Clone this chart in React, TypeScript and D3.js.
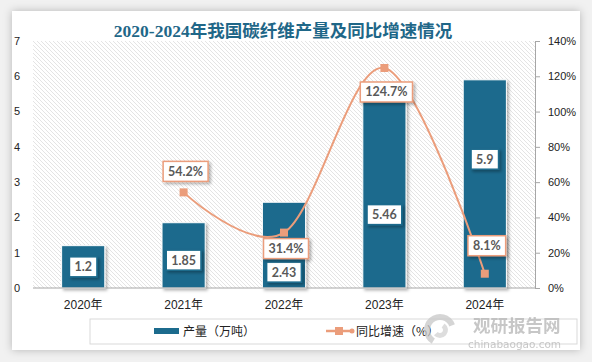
import React, { useEffect, useRef } from 'react';
import * as d3 from 'd3';

const years = ['2020年', '2021年', '2022年', '2023年', '2024年'];
const output = [1.2, 1.85, 2.43, 5.46, 5.9];
const growth: (number | null)[] = [null, 54.2, 31.4, 124.7, 8.1];
// where each bar's value label sits, in axis units (labels were hand-placed in the original)
const outputLabelAt = [0.6, 0.79, 0.45, 2.08, 3.65];
// vertical offset of each growth label from its point, in px
const growthLabelDy = [0, -21, 16, 24, -28];
const leftTicks = [0, 1, 2, 3, 4, 5, 6, 7];
const rightTicks = [0, 20, 40, 60, 80, 100, 120, 140];

const BAR = '#1c6b8d';
const LINE = '#eb9d7b';
const W = 592;
const H = 362;

const App = () => {
  const svgRef = useRef<SVGSVGElement>(null);

  useEffect(() => {
    const svg = d3.select(svgRef.current);
    svg.selectAll('*').remove();
    svg.attr('width', W).attr('height', H);

    const defs = svg.append('defs');
    const hatch = defs.append('pattern')
      .attr('id', 'hatch')
      .attr('patternUnits', 'userSpaceOnUse')
      .attr('width', 4)
      .attr('height', 4);
    hatch.append('rect').attr('width', 4).attr('height', 4).attr('fill', '#fff');
    hatch.append('path')
      .attr('d', 'M-1,3 l2,2 M0,0 l4,4 M3,-1 l2,2')
      .attr('stroke', '#d9d9d9')
      .attr('stroke-width', 0.7);

    const shadow = defs.append('filter').attr('id', 'shadow')
      .attr('x', '-30%').attr('y', '-30%').attr('width', '160%').attr('height', '160%');
    shadow.append('feDropShadow')
      .attr('dx', 2).attr('dy', 2).attr('stdDeviation', 1.5)
      .attr('flood-color', '#000').attr('flood-opacity', 0.3);

    const cardShadow = defs.append('filter').attr('id', 'cardShadow')
      .attr('x', '-5%').attr('y', '-5%').attr('width', '110%').attr('height', '110%');
    cardShadow.append('feDropShadow')
      .attr('dx', 0).attr('dy', 0).attr('stdDeviation', 4)
      .attr('flood-color', '#000').attr('flood-opacity', 0.25);

    svg.append('rect').attr('width', W).attr('height', H).attr('fill', '#f1f1f1');
    svg.append('rect')
      .attr('x', 12).attr('y', 11).attr('width', 568).attr('height', 339)
      .attr('fill', '#fff')
      .attr('filter', 'url(#cardShadow)');

    const left = 33, right = 535, top = 41, bottom = 288;

    const x = d3.scaleBand<string>()
      .domain(years)
      .range([left, right])
      .paddingInner(0.57)
      .paddingOuter(0.285);
    const yL = d3.scaleLinear().domain([0, 7]).range([bottom, top]);
    const yR = d3.scaleLinear().domain([0, 140]).range([bottom, top]);

    // title
    svg.append('text')
      .attr('x', 283).attr('y', 37)
      .attr('text-anchor', 'middle')
      .style('font-family', '"Liberation Serif", "Noto Sans CJK SC", serif')
      .style('font-size', '17.5px')
      .style('font-weight', 'bold')
      .style('fill', '#1f6788')
      .text('2020-2024年我国碳纤维产量及同比增速情况');

    // plot area
    svg.append('rect')
      .attr('x', left).attr('y', top)
      .attr('width', right - left).attr('height', bottom - top)
      .attr('fill', 'url(#hatch)');

    const axisFont = '"Liberation Sans", Arial, sans-serif';

    // left axis labels
    svg.append('g').selectAll('text')
      .data(leftTicks)
      .enter()
      .append('text')
      .attr('x', 14)
      .attr('y', d => yL(d))
      .attr('dy', '0.35em')
      .style('font-family', axisFont)
      .style('font-size', '11px')
      .style('fill', '#222')
      .text(d => d);

    // right axis
    const rAxis = svg.append('g')
      .attr('transform', `translate(${right},0)`)
      .call(d3.axisRight(yR).tickValues(rightTicks).tickSize(5).tickPadding(8).tickFormat(d => `${d}%`));
    rAxis.select('.domain').attr('stroke', '#a6a6a6');
    rAxis.selectAll('line').attr('stroke', '#a6a6a6');
    rAxis.selectAll('text')
      .style('font-family', axisFont)
      .style('font-size', '11px')
      .style('fill', '#222');

    // bars
    svg.append('g').selectAll('rect')
      .data(output)
      .enter()
      .append('rect')
      .attr('x', (d, i) => x(years[i])!)
      .attr('y', d => yL(d))
      .attr('width', x.bandwidth())
      .attr('height', d => yL(0) - yL(d))
      .attr('fill', BAR)
      .attr('stroke', '#fff')
      .attr('stroke-width', 1)
      .attr('filter', 'url(#shadow)');

    // bottom axis line
    svg.append('line')
      .attr('x1', left).attr('x2', right)
      .attr('y1', bottom).attr('y2', bottom)
      .attr('stroke', '#a6a6a6');

    // category labels
    svg.append('g').selectAll('text')
      .data(years)
      .enter()
      .append('text')
      .attr('x', d => x(d)! + x.bandwidth() / 2)
      .attr('y', 309)
      .attr('text-anchor', 'middle')
      .style('font-family', '"Liberation Sans", "Noto Sans CJK SC", sans-serif')
      .style('font-size', '12px')
      .style('fill', '#222')
      .text(d => d);

    // growth line
    const pts = growth
      .map((g, i) => ({ g, i }))
      .filter(p => p.g !== null) as { g: number; i: number }[];
    const cx = (i: number) => x(years[i])! + x.bandwidth() / 2;
    const line = d3.line<{ g: number; i: number }>()
      .x(p => cx(p.i))
      .y(p => yR(p.g))
      .curve(d3.curveCardinal.tension(0));
    svg.append('path')
      .datum(pts)
      .attr('d', line)
      .attr('fill', 'none')
      .attr('stroke', LINE)
      .attr('stroke-width', 2);

    svg.append('g').selectAll('rect')
      .data(pts)
      .enter()
      .append('rect')
      .attr('x', p => cx(p.i) - 4)
      .attr('y', p => yR(p.g) - 4)
      .attr('width', 8)
      .attr('height', 8)
      .attr('fill', LINE);

    const labelFont = '"Lato", "Open Sans", sans-serif';
    const addLabel = (cxp: number, cyp: number, txt: string, border: string) => {
      const g = svg.append('g');
      const rect = g.append('rect');
      const t = g.append('text')
        .attr('x', cxp).attr('y', cyp)
        .attr('dy', '0.36em')
        .attr('text-anchor', 'middle')
        .style('font-family', labelFont)
        .style('font-size', '12.5px')
        .style('font-weight', 'bold')
        .style('fill', '#595959')
        .text(txt);
      const w = (t.node() as SVGTextElement).getComputedTextLength() + 10;
      const h = 20;
      rect.attr('x', cxp - w / 2).attr('y', cyp - h / 2)
        .attr('width', w).attr('height', h)
        .attr('fill', '#fff')
        .attr('stroke', border)
        .attr('stroke-width', 1.5)
        .attr('filter', 'url(#shadow)');
    };

    output.forEach((v, i) => {
      addLabel(cx(i), yL(outputLabelAt[i]), String(v), BAR);
    });
    pts.forEach(p => {
      addLabel(cx(p.i) + 2, yR(p.g) + growthLabelDy[p.i], `${p.g}%`, LINE);
    });

    // legend
    const lg = svg.append('g');
    lg.append('rect')
      .attr('x', 90).attr('y', 319).attr('width', 487).attr('height', 25)
      .attr('fill', 'none').attr('stroke', '#d9d9d9');
    lg.append('rect')
      .attr('x', 154).attr('y', 328).attr('width', 25).attr('height', 6)
      .attr('fill', BAR);
    lg.append('text')
      .attr('x', 183).attr('y', 336)
      .style('font-family', '"Noto Sans CJK SC", sans-serif')
      .style('font-size', '12px')
      .style('fill', '#222')
      .text('产量（万吨）');
    lg.append('line')
      .attr('x1', 326).attr('x2', 352).attr('y1', 331).attr('y2', 331)
      .attr('stroke', LINE).attr('stroke-width', 2.5);
    lg.append('rect')
      .attr('x', 335).attr('y', 327).attr('width', 8).attr('height', 8)
      .attr('fill', LINE);
    lg.append('circle')
      .attr('cx', 352).attr('cy', 331).attr('r', 2.5)
      .attr('fill', LINE);
    lg.append('text')
      .attr('x', 356).attr('y', 336)
      .style('font-family', '"Noto Sans CJK SC", sans-serif')
      .style('font-size', '12px')
      .style('fill', '#222')
      .text('同比增速（%）');

    // watermark
    const wm = svg.append('g').attr('opacity', 0.75);
    const arc = d3.arc();
    wm.append('path')
      .attr('transform', 'translate(440,330)')
      .attr('d', arc({ innerRadius: 10, outerRadius: 16, startAngle: -2.6, endAngle: 1.2 }) as string)
      .attr('fill', '#c8c8c8');
    wm.append('path')
      .attr('transform', 'translate(440,330)')
      .attr('d', arc({ innerRadius: 3, outerRadius: 8, startAngle: 0.6, endAngle: 4.0 }) as string)
      .attr('fill', '#d2d2d2');
    wm.append('text')
      .attr('x', 473).attr('y', 332)
      .style('font-family', '"Noto Sans CJK SC", sans-serif')
      .style('font-size', '17.5px')
      .style('font-weight', 'bold')
      .style('fill', '#b5b5b5')
      .text('观研报告网');
    wm.append('text')
      .attr('x', 468).attr('y', 348)
      .style('font-family', '"DejaVu Sans", sans-serif')
      .style('font-size', '10.5px')
      .style('fill', '#b5b5b5')
      .text('chinabaogao.com');
  }, []);

  return (
    <div style={{ position: 'fixed', left: 0, top: 0 }}>
      <svg ref={svgRef} style={{ display: 'block' }}></svg>
    </div>
  );
};

export default App;
